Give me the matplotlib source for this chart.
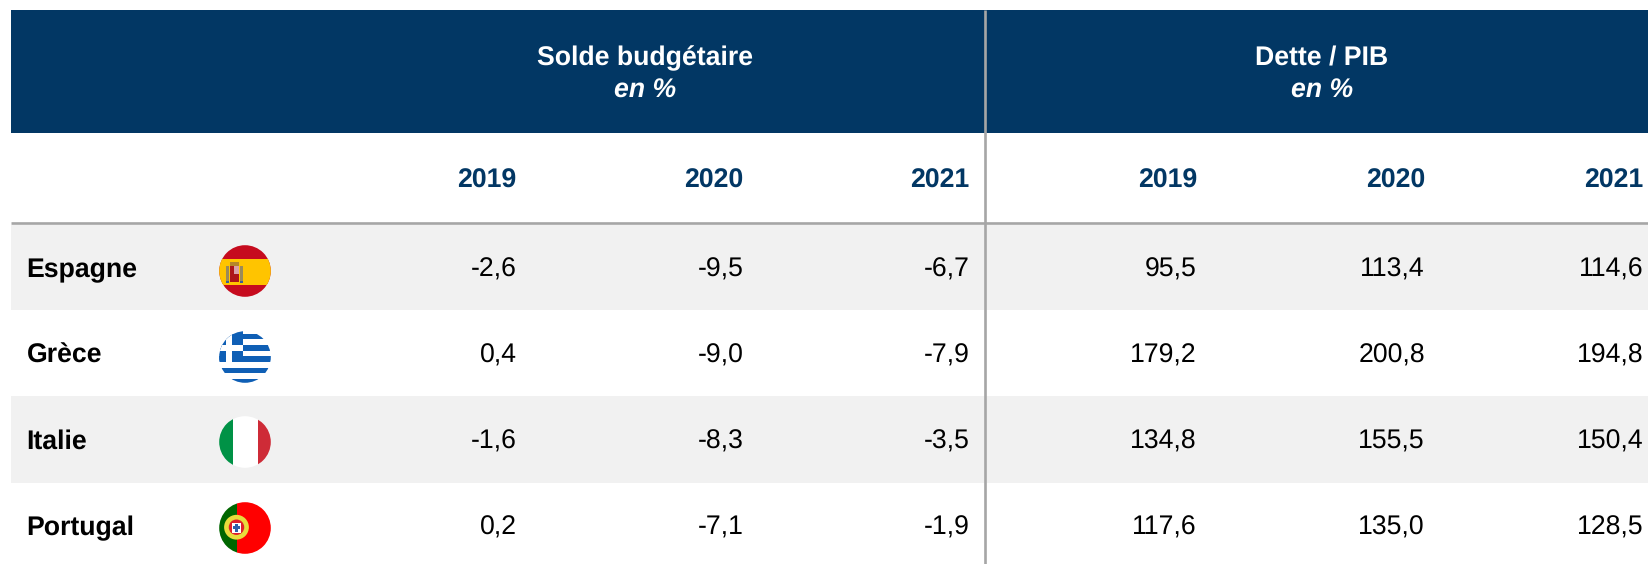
import matplotlib
matplotlib.use('Agg')
import matplotlib.pyplot as plt
from matplotlib.patches import Rectangle, Circle

plt.rcParams['font.family'] = ['Liberation Sans', 'DejaVu Sans']
plt.rcParams['text.hinting'] = 'no_hinting'

groups = ['Solde budgétaire', 'Dette / PIB']
group_unit = 'en %'
years = ['2019', '2020', '2021']
countries = ['Espagne', 'Grèce', 'Italie', 'Portugal']
solde = [['-2,6', '-9,5', '-6,7'],
         ['0,4', '-9,0', '-7,9'],
         ['-1,6', '-8,3', '-3,5'],
         ['0,2', '-7,1', '-1,9']]
dette = [['95,5', '113,4', '114,6'],
         ['179,2', '200,8', '194,8'],
         ['134,8', '155,5', '150,4'],
         ['117,6', '135,0', '128,5']]

NAVY = '#023764'
GREY = '#a6a6a6'
BAND = '#f1f1f1'
FS = 19.2

fig = plt.figure(figsize=(16.49, 5.64), dpi=100)
ax = fig.add_axes([0, 0, 1, 1])
ax.set_xlim(0, 1649)
ax.set_ylim(564, 0)
ax.axis('off')

row_edges = [225, 310, 396, 483, 570]
col_right = [516.5, 743.5, 969.5, 1197, 1425, 1643.5]
group_x = [645, 1322]
row_y = [277, 363, 449, 535]
flag_y = [271, 357, 442, 528]
flag_x = 245
flag_r = 25.8

ax.add_patch(Rectangle((11, 10), 1638, 123, fc=NAVY, ec='none', zorder=1))
for i in (0, 2):
    ax.add_patch(Rectangle((11, row_edges[i]), 1638, row_edges[i + 1] - row_edges[i],
                           fc=BAND, ec='none', zorder=1))
ax.plot([11, 1649], [223.3, 223.3], color=GREY, lw=1.9, solid_capstyle='butt', zorder=2)
ax.plot([984.9, 984.9], [10, 564], color=GREY, lw=1.9, solid_capstyle='butt', zorder=3)

for x, g in zip(group_x, groups):
    ax.text(x, 65, g, color='white', fontsize=FS, fontweight='bold', ha='center', va='baseline')
    ax.text(x, 98, group_unit, color='white', fontsize=FS, fontweight='bold', style='italic',
            ha='center', va='baseline')

for x, y in zip(col_right, years * 2):
    ax.text(x, 188, y, color=NAVY, fontsize=FS, fontweight='bold', ha='right', va='baseline')


def stripe(cy, x0, y0, w, h, color, clip, z=5):
    # flag units, -1..1 across the circle
    r = Rectangle((flag_x + x0 * flag_r, cy + y0 * flag_r), w * flag_r, h * flag_r,
                  fc=color, ec='none', zorder=z)
    ax.add_patch(r)
    r.set_clip_path(clip)


def flag(name, cy):
    clip = Circle((flag_x, cy), flag_r, transform=ax.transData)
    if name == 'Espagne':
        stripe(cy, -1, -1, 2, 2, '#c60b1e', clip)
        stripe(cy, -1, -0.47, 2, 1.03, '#ffc400', clip, 6)
        # coat of arms
        stripe(cy, -0.57, -0.18, 0.32, 0.62, '#ad1519', clip, 7)
        stripe(cy, -0.41, -0.18, 0.16, 0.3, '#d9a0a8', clip, 8)
        stripe(cy, -0.57, -0.36, 0.34, 0.18, '#b5862a', clip, 7)
        stripe(cy, -0.73, -0.18, 0.1, 0.58, '#9a8a5a', clip, 7)
        stripe(cy, -0.19, -0.18, 0.1, 0.58, '#9a8a5a', clip, 7)
        stripe(cy, -0.73, 0.38, 0.1, 0.08, '#3a5f9a', clip, 8)
        stripe(cy, -0.19, 0.38, 0.1, 0.08, '#3a5f9a', clip, 8)
    elif name == 'Grèce':
        blue = '#0f5fb5'
        stripe(cy, -1, -1, 2, 2, 'white', clip)
        for top in (-0.91, -0.47, -0.03, 0.41, 0.85):
            stripe(cy, -1, top, 2, 0.22, blue, clip, 6)
        stripe(cy, -1, -1, 0.93, 1.19, blue, clip, 7)
        stripe(cy, -1, -0.47, 0.93, 0.22, 'white', clip, 8)
        stripe(cy, -0.73, -1, 0.23, 1.19, 'white', clip, 8)
    elif name == 'Italie':
        stripe(cy, -1, -1, 0.53, 2, '#009246', clip)
        stripe(cy, -0.47, -1, 0.97, 2, 'white', clip)
        stripe(cy, 0.5, -1, 0.5, 2, '#ce2b37', clip)
    else:
        px = flag_x - 0.33 * flag_r
        stripe(cy, -1, -1, 0.7, 2, '#006600', clip)
        stripe(cy, -0.3, -1, 1.3, 2, '#ff0000', clip)
        ax.add_patch(Circle((px, cy - 0.03 * flag_r), 0.48 * flag_r, fc='#e8dc3c',
                            ec='none', zorder=7))
        ax.add_patch(Circle((px, cy - 0.03 * flag_r), 0.3 * flag_r, fc='#e0202a',
                            ec='none', zorder=8))
        stripe(cy, -0.5, -0.2, 0.34, 0.38, 'white', clip, 9)
        stripe(cy, -0.38, -0.16, 0.1, 0.3, '#2f5fa8', clip, 10)
        stripe(cy, -0.46, -0.06, 0.26, 0.1, '#2f5fa8', clip, 10)


for i, c in enumerate(countries):
    ax.text(26.5, row_y[i], c, color='black', fontsize=FS, fontweight='bold', ha='left', va='baseline')
    flag(c, flag_y[i])
    vals = solde[i] + dette[i]
    for x, v in zip(col_right, vals):
        ax.text(x, row_y[i], v, color='black', fontsize=FS, ha='right', va='baseline')

fig.savefig('out.png', dpi=100)
